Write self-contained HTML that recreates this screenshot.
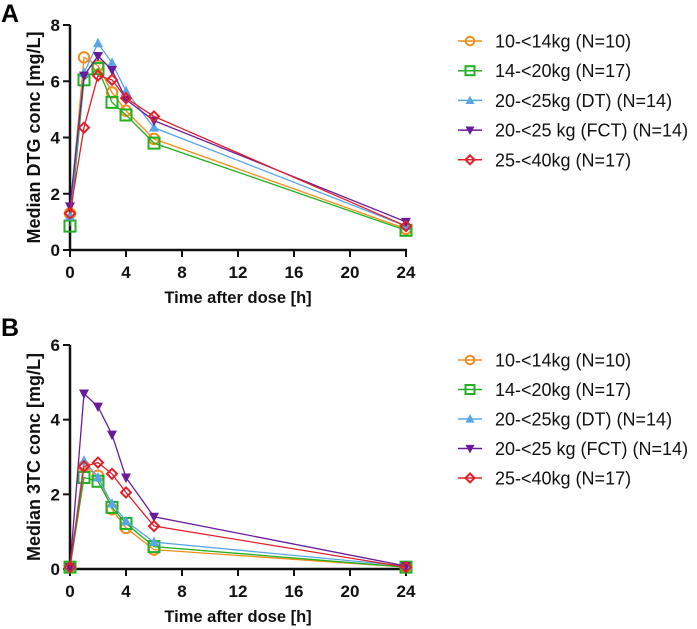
<!DOCTYPE html>
<html><head><meta charset="utf-8">
<style>
body{margin:0;background:#fff;}
svg{display:block;font-family:"Liberation Sans",Arial,sans-serif;}
.tick{font-size:17px;font-weight:bold;fill:#111;}
.xtitle{font-size:16.5px;font-weight:bold;fill:#111;}
.ytitle{font-size:18px;font-weight:bold;fill:#111;}
.leg{font-size:18px;fill:#111;}
.panel{font-size:25px;font-weight:bold;fill:#000;}
</style></head>
<body>
<svg id="chart" width="697" height="629" viewBox="0 0 697 629"></svg>
<script>
const times = [0, 1, 2, 3, 4, 6, 24];
const seriesNames = ["10-<14kg (N=10)", "14-<20kg (N=17)", "20-<25kg (DT) (N=14)", "20-<25 kg (FCT) (N=14)", "25-<40kg (N=17)"];
const colors = ["#f28c1b", "#22b022", "#5aa5e8", "#6a1b9a", "#e0202a"];
const markers = ["circle", "square", "triangle", "tridown", "diamond"];
const dtgOrange = [1.3, 6.85, 6.55, 5.6, 4.95, 3.95, 0.75];
const dtgGreen  = [0.85, 6.05, 6.45, 5.25, 4.8, 3.8, 0.7];
const dtgBlue   = [1.2, 6.3, 7.35, 6.65, 5.65, 4.35, 0.85];
const dtgPurple = [1.55, 6.2, 6.9, 6.4, 5.35, 4.6, 1.0];
const dtgRed    = [1.3, 4.35, 6.2, 6.05, 5.4, 4.75, 0.85];
const tcOrange = [0.05, 2.75, 2.5, 1.6, 1.1, 0.52, 0.05];
const tcGreen  = [0.05, 2.45, 2.35, 1.65, 1.22, 0.6, 0.05];
const tcBlue   = [0.05, 2.9, 2.45, 1.75, 1.28, 0.72, 0.08];
const tcPurple = [0.05, 4.7, 4.35, 3.6, 2.45, 1.4, 0.08];
const tcRed    = [0.05, 2.75, 2.85, 2.55, 2.05, 1.15, 0.05];
const xTicks = [0, 4, 8, 12, 16, 20, 24];
const yTicksA = [0, 2, 4, 6, 8];
const yTicksB = [0, 2, 4, 6];

const svg = document.getElementById('chart');
const NS = 'http://www.w3.org/2000/svg';
function mk(tag, attrs, parent){const e=document.createElementNS(NS,tag);for(const k in attrs)e.setAttribute(k,attrs[k]);(parent||svg).appendChild(e);return e;}

function marker(g, type, cx, cy, color, s){
  let e;
  if(type==='circle') e=mk('circle',{cx:cx,cy:cy,r:s*0.95,fill:'none',stroke:color,'stroke-width':2},g);
  else if(type==='square') e=mk('rect',{x:cx-s,y:cy-s,width:2*s,height:2*s,fill:'none',stroke:color,'stroke-width':2},g);
  else if(type==='triangle') e=mk('polygon',{points:`${cx},${cy-s*1.1} ${cx+s},${cy+s*0.8} ${cx-s},${cy+s*0.8}`,fill:color},g);
  else if(type==='tridown') e=mk('polygon',{points:`${cx},${cy+s*1.1} ${cx+s},${cy-s*0.8} ${cx-s},${cy-s*0.8}`,fill:color},g);
  else e=mk('polygon',{points:`${cx},${cy-s} ${cx+s},${cy} ${cx},${cy+s} ${cx-s},${cy}`,fill:'none',stroke:color,'stroke-width':2},g);
  return e;
}

function panel(opt){
  const x0=70, xPer=14;
  const xs = t => x0 + t*xPer;
  const ys = v => opt.y0 - (v/opt.yMax)*(opt.y0-opt.yTop);
  const g = mk('g',{});
  
  
  const lab = mk('text',{x:1,y:opt.labelY,class:'panel'},g); lab.textContent=opt.letter;
  
  
  const ya = mk('line',{x1:x0,y1:opt.yTop,x2:x0,y2:opt.y0+0.5,stroke:'#111','stroke-width':2.5},g);
  
  
  const xa = mk('line',{x1:x0-1,y1:opt.y0,x2:xs(24)+1,y2:opt.y0,stroke:'#111','stroke-width':2.5},g);
  
  
  xTicks.forEach(t=>{
    mk('line',{x1:xs(t),y1:opt.y0,x2:xs(t),y2:opt.y0+7,stroke:'#111','stroke-width':2},g);
    const tx=mk('text',{x:xs(t),y:opt.y0+28,class:'tick','text-anchor':'middle'},g); tx.textContent=t;
    
    
  });
  opt.yTicks.forEach(v=>{
    mk('line',{x1:x0-7,y1:ys(v),x2:x0,y2:ys(v),stroke:'#111','stroke-width':2},g);
    const tx=mk('text',{x:x0-10,y:ys(v)+6,class:'tick','text-anchor':'end'},g); tx.textContent=v;
    
    
  });
  const xt=mk('text',{x:xs(12),y:opt.y0+53,class:'xtitle','text-anchor':'middle'},g); xt.textContent='Time after dose [h]';
  
  
  const cy=(opt.y0+opt.yTop)/2;
  const yt=mk('text',{x:0,y:0,class:'ytitle','text-anchor':'middle',transform:`translate(40,${cy}) rotate(-90)`},g); yt.textContent=opt.yTitle;
  
  
  opt.data.forEach((vals,i)=>{
    const sg=mk('g',{},g);
    
    
    mk('polyline',{points:vals.map((v,j)=>xs(times[j])+','+ys(v)).join(' '),fill:'none',stroke:colors[i],'stroke-width':1.3},sg);
    vals.forEach((v,j)=>{
      const m=marker(sg,markers[i],xs(times[j]),ys(v),colors[i],i<2?5.5:5);
      
      
    });
  });
  seriesNames.forEach((n,i)=>{
    const ly=opt.legY+i*opt.legStep;
    const lg=mk('g',{},g);
    
    
    mk('line',{x1:458,y1:ly,x2:482,y2:ly,stroke:colors[i],'stroke-width':1.5},lg);
    marker(lg,markers[i],470,ly,colors[i],4.5);
    const t=mk('text',{x:495,y:ly+6.5,class:'leg'},lg); t.textContent=n;
  });
}

panel({name:'panel-a-dtg',letter:'A',labelY:22,y0:250,yTop:25,yMax:8,yTicks:yTicksA,yTitle:'Median DTG conc [mg/L]',
  data:[dtgOrange,dtgGreen,dtgBlue,dtgPurple,dtgRed],legY:41,legStep:29.7});
panel({name:'panel-b-3tc',letter:'B',labelY:336,y0:569,yTop:345,yMax:6,yTicks:yTicksB,yTitle:'Median 3TC conc [mg/L]',
  data:[tcOrange,tcGreen,tcBlue,tcPurple,tcRed],legY:360,legStep:29.5});
</script>
</body></html>
